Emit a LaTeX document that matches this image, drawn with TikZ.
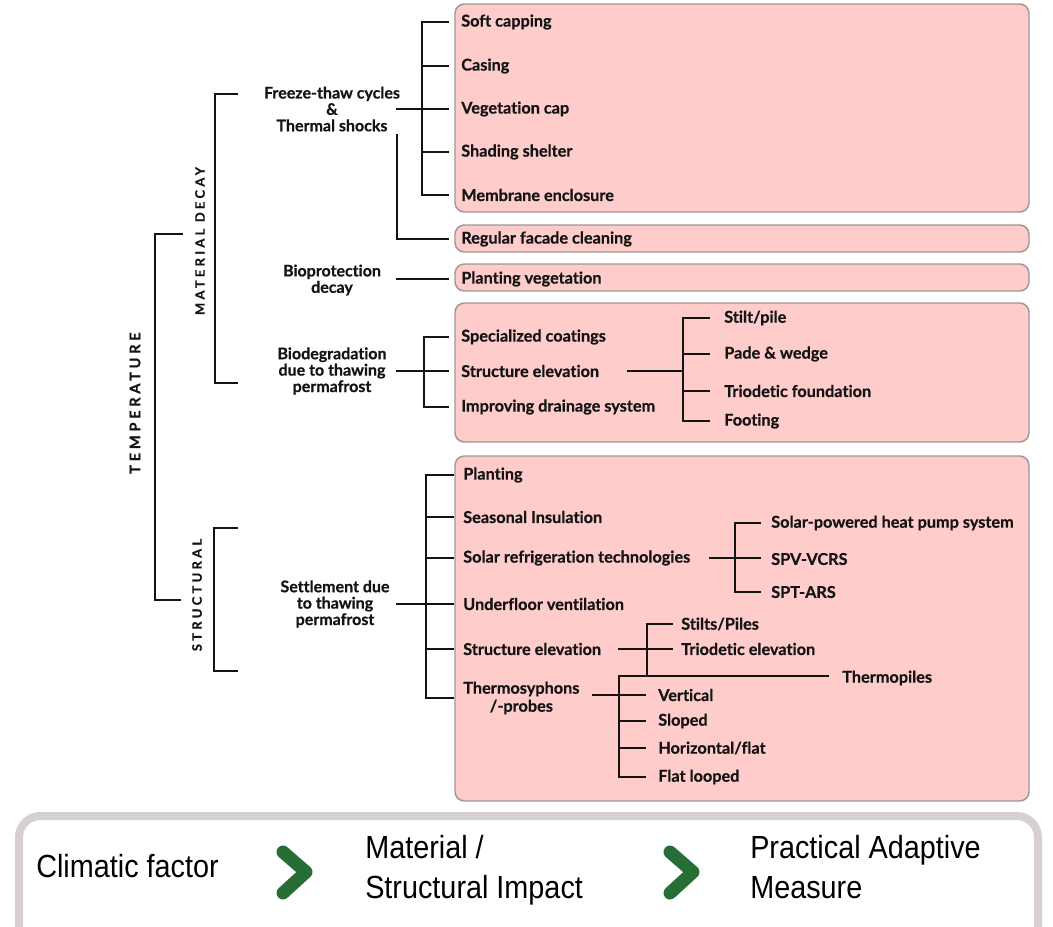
\documentclass[tikz,border=0pt]{standalone}
\usepackage{fontspec}
\setmainfont{Lato}[Ligatures=NoCommon,BoldFeatures={FakeBold=0.6}]
\newfontfamily\legendfont[FakeStretch=0.9]{Liberation Sans}
\newfontfamily\spacedfont[LetterSpace=25,BoldFeatures={FakeBold=0.6}]{Lato}
\usepackage{tikz}
\usetikzlibrary{positioning}
\definecolor{boxpink}{RGB}{255,204,204}
\definecolor{boxedge}{RGB}{160,150,150}
\definecolor{legendedge}{RGB}{215,208,208}
\definecolor{chevgreen}{RGB}{39,110,54}
\definecolor{ink}{RGB}{20,20,20}

\begin{document}
\begin{tikzpicture}[x=0.75pt,y=-0.75pt,
                    item/.style={anchor=west,inner sep=0pt,text=ink,
                                 font=\bfseries\fontsize{12.2}{13.5}\selectfont},
                    cause/.style={align=center,inner sep=0pt,text=ink,
                                  font=\bfseries\fontsize{12}{12.3}\selectfont},
                    group/.style={rotate=90,inner sep=0pt,text=ink,
                                  font=\spacedfont\bfseries\fontsize{9.75}{10}\selectfont},
                    link/.style={line width=2.1pt,ink,line cap=rect},
                    measurebox/.style={fill=boxpink,draw=boxedge,line width=1.1pt,rounded corners=7pt},
                    legendtext/.style={inner sep=0pt,align=left,
                                       font=\legendfont\fontsize{24}{30}\selectfont},
                    chevron/.style={line width=9.75pt,chevgreen,line cap=round,line join=round}]
\useasboundingbox (0,0) rectangle (1053,926);

\foreach \top/\bot in {4/212, 225/252, 264/291, 303/442, 456/801}
        \draw[measurebox] (455,\top) rectangle (1029,\bot);

\node[group,font=\spacedfont\bfseries\fontsize{11}{11}\selectfont] (temp) at (135,403) {TEMPERATURE};
\node[group] (matdecay) at (200,241) {MATERIAL DECAY};
\node[group] (structural) at (197,595) {STRUCTURAL};

\coordinate (tempa) at (182,234);
\coordinate (tempb) at (180,600);
\coordinate (mata) at (237,94);
\coordinate (matb) at (237,383);
\coordinate (strua) at (237,528);
\coordinate (strub) at (237,671);
\draw[link] (tempa) -- ++(-27,0) |- (tempb);
\draw[link] (mata) -- ++(-22,0) |- (matb);
\draw[link] (strua) -- ++(-23,0) |- (strub);

\node[cause] (freeze) at (332,109) {Freeze-thaw cycles\\\&\\Thermal shocks};
\node[cause] (bioprot) at (332,280) {Bioprotection\\decay};
\node[cause] (biodeg) at (332,371) {Biodegradation\\due to thawing\\permafrost};
\node[cause] (settle) at (335,604) {Settlement due\\to thawing\\permafrost};
\coordinate (causeout) at (397,0);

\foreach \n/\y/\t in {soft/22/Soft capping, casing/66/Casing, vegcap/109/Vegetation cap,
                      shading/152/Shading shelter, membrane/195/Membrane enclosure}
        \node[item] (\n) at (461,\y) {\t};
\node[item] (facade) at (461,239) {Regular facade cleaning};
\node[item] (plantveg) at (461,279) {Planting vegetation};

\coordinate (ftbar) at (422,0);
\draw[link] (causeout |- freeze) -- (ftbar |- freeze);
\draw[link] (ftbar |- soft) -- (ftbar |- membrane);
\foreach \n in {soft,casing,vegcap,shading,membrane}
        \draw[link] (ftbar |- \n) -- ++(26,0);
\draw[link] (causeout |- 0,135) |- ([xshift=-10pt]facade.west);
\draw[link] (causeout |- plantveg) -- ([xshift=-10pt]plantveg.west);

\foreach \n/\y/\t in {coatings/337/Specialized coatings, elevone/371/Structure elevation,
                      drainage/407/Improving drainage system}
        \node[item] (\n) at (461,\y) {\t};
\foreach \n/\y/\t in {stilt/318/{Stilt/pile}, pade/354/{Pade \& wedge},
                      triofound/391/Triodetic foundation, footing/421/Footing}
        \node[item] (\n) at (724,\y) {\t};

\coordinate (bdbar) at (424,0);
\draw[link] (causeout |- biodeg) -- (bdbar |- biodeg);
\draw[link] (bdbar |- coatings) -- (bdbar |- drainage);
\foreach \n in {coatings,elevone,drainage}
        \draw[link] (bdbar |- \n) -- ++(24,0);
\coordinate (fdbar) at (683,0);
\draw[link] (fdbar |- elevone) -- ++(-55,0);
\draw[link] (fdbar |- stilt) -- (fdbar |- footing);
\foreach \n in {stilt,pade,triofound,footing}
        \draw[link] (fdbar |- \n) -- ++(26,0);

\foreach \n/\y/\t in {planting/475/Planting, seasonal/517/Seasonal Insulation,
                      solar/558/Solar refrigeration technologies, underfloor/604/Underfloor ventilation,
                      elevtwo/649/Structure elevation}
        \node[item] (\n) at (463,\y) {\t};
\node[item,align=center] (thermo) at (463,698) {Thermosyphons\\/-probes};
\foreach \n/\y/\t in {solarpump/523/Solar-powered heat pump system, spv/559/SPV-VCRS, spt/592/SPT-ARS}
        \node[item] (\n) at (771,\y) {\t};
\foreach \n/\y/\t in {stilts/624/{Stilts/Piles}, trioelev/649/Triodetic elevation}
        \node[item] (\n) at (681,\y) {\t};
\node[item] (thermopiles) at (842,678) {Thermopiles};
\foreach \n/\y/\t in {vertical/695/Vertical, sloped/721/Sloped,
                      horizontal/748/{Horizontal/flat}, flatloop/777/Flat looped}
        \node[item] (\n) at (658,\y) {\t};

\coordinate (mbar) at (426,0);
\draw[link] (causeout |- settle) -- (mbar |- settle);
\draw[link] (mbar |- planting) -- (mbar |- thermo);
\foreach \n in {planting,seasonal,solar,underfloor,elevtwo,thermo}
        \draw[link] (mbar |- \n) -- ++(27,0);

\coordinate (srbar) at (735,0);
\draw[link] (srbar |- solarpump) -- (srbar |- spt);
\draw[link] (srbar |- solar) ++(-25,0) -- ++(50,0);
\foreach \n in {solarpump,spt}
        \draw[link] (srbar |- \n) -- ++(25,0);

\coordinate (tstop) at (619,676);
\coordinate (sebar) at (647,0);
\draw[link] (sebar |- stilts) -- (sebar |- tstop);
\draw[link] (sebar |- stilts) -- ++(25,0);
\draw[link] (sebar |- trioelev) ++(-28,0) -- ++(53,0);
\draw[link] (tstop) -- ([xshift=-11pt]thermopiles.west |- tstop);
\draw[link] (tstop) -- (tstop |- flatloop);
\draw[link] (tstop |- vertical) ++(-26,0) -- ++(52,0);
\foreach \n in {sloped,horizontal,flatloop}
        \draw[link] (tstop |- \n) -- ++(26,0);

\draw[line width=6pt,legendedge,fill=white,rounded corners=16pt] (19,816) rectangle (1038,990);
\foreach \dx in {0,387}
        \draw[chevron] (283+\dx,852) -- (306+\dx,872) -- (283+\dx,893);
\node[legendtext,anchor=base west] (climatic) at (36,877) {Climatic factor};
\node[legendtext,anchor=north west] (impact) at (365,835) {Material /\\Structural Impact};
\node[legendtext,anchor=north west] (measure) at (750,835) {Practical Adaptive\\Measure};
\end{tikzpicture}
\end{document}
